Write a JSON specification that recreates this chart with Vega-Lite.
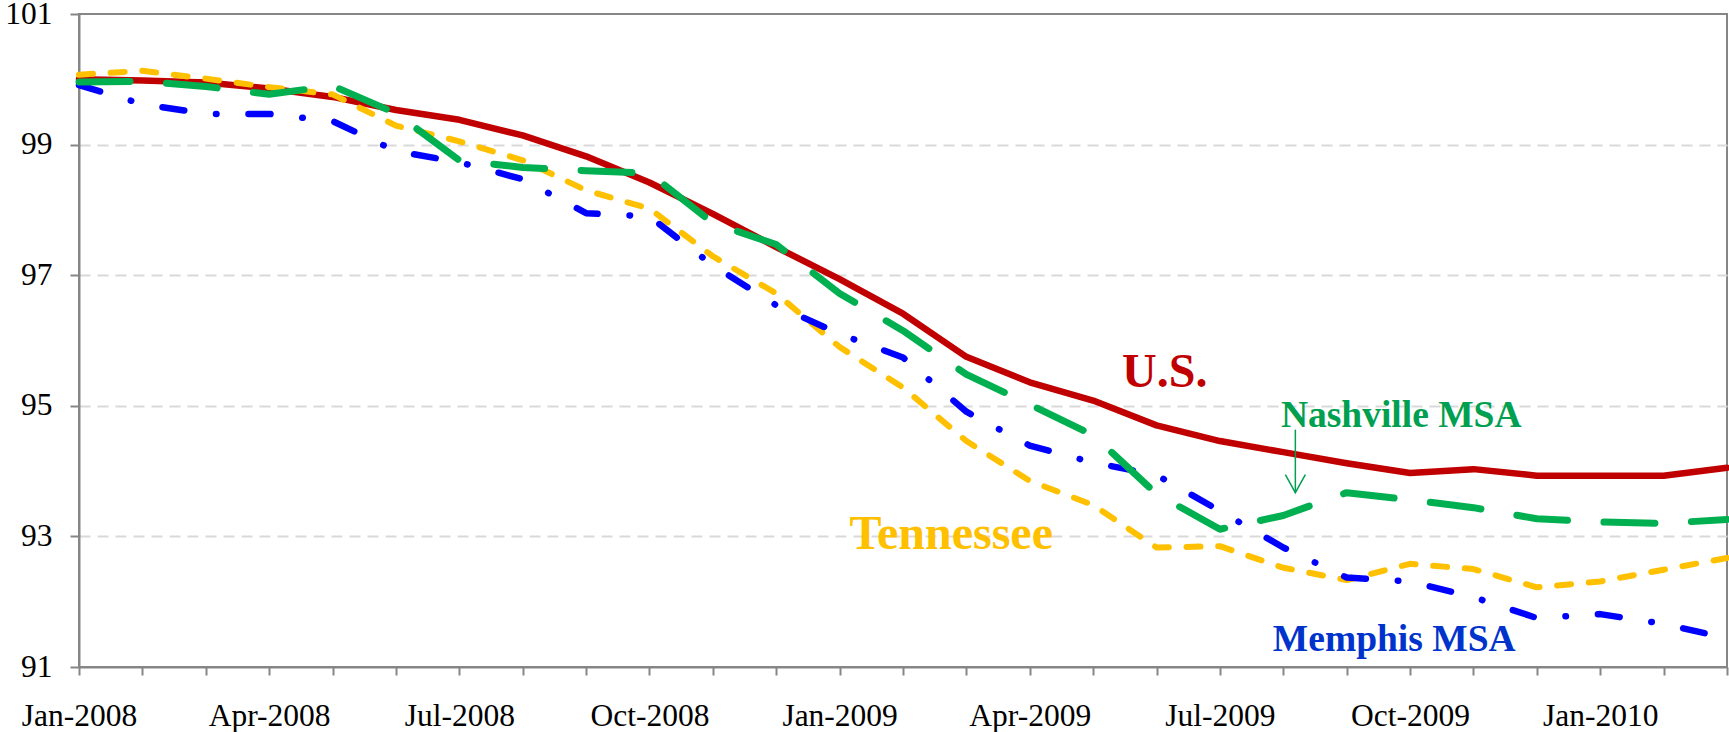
{
  "$schema": "https://vega.github.io/schema/vega-lite/v6.json",
  "width": 1648,
  "height": 653,
  "autosize": "none",
  "padding": {"left": 79, "top": 14, "right": 2, "bottom": 65},
  "background": "white",
  "config": {
    "view": {"stroke": "#868686", "strokeWidth": 2},
    "axis": {
      "labelFont": "Liberation Serif",
      "labelFontSize": 31.5,
      "labelColor": "#000000",
      "domainColor": "#868686",
      "domainWidth": 2,
      "tickColor": "#868686",
      "tickWidth": 2,
      "title": null
    }
  },
  "datasets": {
    "series": [
      {"m": 0, "month": "Jan-2008", "US": 100.0, "TN": 100.07, "Nash": 99.96, "Mem": 99.91},
      {"m": 1, "month": "Feb-2008", "US": 99.98, "TN": 100.13, "Nash": 99.97, "Mem": 99.62},
      {"m": 2, "month": "Mar-2008", "US": 99.95, "TN": 100.01, "Nash": 99.89, "Mem": 99.47},
      {"m": 3, "month": "Apr-2008", "US": 99.86, "TN": 99.88, "Nash": 99.77, "Mem": 99.47},
      {"m": 4, "month": "May-2008", "US": 99.73, "TN": 99.77, "Nash": 99.9, "Mem": 99.36},
      {"m": 5, "month": "Jun-2008", "US": 99.53, "TN": 99.29, "Nash": 99.48, "Mem": 98.9},
      {"m": 6, "month": "Jul-2008", "US": 99.38, "TN": 99.05, "Nash": 98.76, "Mem": 98.73},
      {"m": 7, "month": "Aug-2008", "US": 99.14, "TN": 98.76, "Nash": 98.65, "Mem": 98.47},
      {"m": 8, "month": "Sep-2008", "US": 98.82, "TN": 98.3, "Nash": 98.6, "Mem": 97.95},
      {"m": 9, "month": "Oct-2008", "US": 98.42, "TN": 98.02, "Nash": 98.56, "Mem": 97.9},
      {"m": 10, "month": "Nov-2008", "US": 97.94, "TN": 97.29, "Nash": 97.8, "Mem": 97.15},
      {"m": 11, "month": "Dec-2008", "US": 97.43, "TN": 96.72, "Nash": 97.47, "Mem": 96.54},
      {"m": 12, "month": "Jan-2009", "US": 96.94, "TN": 95.9, "Nash": 96.72, "Mem": 96.1},
      {"m": 13, "month": "Feb-2009", "US": 96.41, "TN": 95.28, "Nash": 96.15, "Mem": 95.74},
      {"m": 14, "month": "Mar-2009", "US": 95.75, "TN": 94.46, "Nash": 95.48, "Mem": 94.91},
      {"m": 15, "month": "Apr-2009", "US": 95.36, "TN": 93.85, "Nash": 95.02, "Mem": 94.39},
      {"m": 16, "month": "May-2009", "US": 95.08, "TN": 93.48, "Nash": 94.55, "Mem": 94.13},
      {"m": 17, "month": "Jun-2009", "US": 94.7, "TN": 92.83, "Nash": 93.65, "Mem": 93.94},
      {"m": 18, "month": "Jul-2009", "US": 94.46, "TN": 92.85, "Nash": 93.11, "Mem": 93.39},
      {"m": 19, "month": "Aug-2009", "US": 94.29, "TN": 92.52, "Nash": 93.32, "Mem": 92.83},
      {"m": 20, "month": "Sep-2009", "US": 94.12, "TN": 92.33, "Nash": 93.67, "Mem": 92.37},
      {"m": 21, "month": "Oct-2009", "US": 93.97, "TN": 92.58, "Nash": 93.56, "Mem": 92.31},
      {"m": 22, "month": "Nov-2009", "US": 94.03, "TN": 92.5, "Nash": 93.44, "Mem": 92.07},
      {"m": 23, "month": "Dec-2009", "US": 93.93, "TN": 92.22, "Nash": 93.27, "Mem": 91.75},
      {"m": 24, "month": "Jan-2010", "US": 93.93, "TN": 92.31, "Nash": 93.22, "Mem": 91.81},
      {"m": 25, "month": "Feb-2010", "US": 93.93, "TN": 92.49, "Nash": 93.2, "Mem": 91.66},
      {"m": 26, "month": "Mar-2010", "US": 94.05, "TN": 92.67, "Nash": 93.26, "Mem": 91.44}
    ],
    "labels": [
      {"label": "U.S.", "m": 17.13, "v": 95.29},
      {"label": "Tennessee", "m": 13.76, "v": 92.8},
      {"label": "Nashville MSA", "m": 20.86, "v": 94.67},
      {"label": "Memphis MSA", "m": 20.75, "v": 91.25}
    ],
    "arrow": [
      {"m": 19.19, "top": 94.635, "tip": 93.67}
    ]
  },
  "layer": [
    {
      "data": {"name": "series"},
      "layer": [
        {
          "mark": {"type": "line", "color": "#C00000", "strokeWidth": 6.5, "strokeJoin": "round", "strokeCap": "round"},
          "encoding": {
            "x": {
              "field": "m",
              "type": "quantitative",
              "scale": {"domain": [0, 26], "nice": false, "zero": false},
              "axis": {
                "values": [0,1,2,3,4,5,6,7,8,9,10,11,12,13,14,15,16,17,18,19,20,21,22,23,24,25,26],
                "labelExpr": "datum.value % 3 == 0 ? ['Jan','Feb','Mar','Apr','May','Jun','Jul','Aug','Sep','Oct','Nov','Dec'][datum.value % 12] + '-' + (2008 + floor(datum.value / 12)) : ''",
                "grid": false,
                "tickSize": 8,
                "labelPadding": 50,
                "labelBaseline": "alphabetic",
                "labelFlush": false,
                "labelOverlap": false,
                "labelBound": false
              }
            },
            "y": {
              "field": "US",
              "type": "quantitative",
              "scale": {"domain": [91, 101], "nice": false, "zero": false},
              "axis": {
                "values": [91, 93, 95, 97, 99, 101],
                "format": "d",
                "tickSize": 9,
                "labelPadding": 18,
                "labelBaseline": "middle",
                "grid": true,
                "gridColor": "#D9D9D9",
                "gridWidth": 2,
                "gridDash": [11, 7],
                "gridOpacity": {"condition": {"test": "datum.value >= 101 || datum.value <= 91", "value": 0}, "value": 1}
              }
            }
          }
        },
        {
          "mark": {"type": "line", "color": "#FFC000", "strokeWidth": 6, "strokeDash": [14, 17.7], "strokeCap": "round", "strokeJoin": "round"},
          "encoding": {"x": {"field": "m", "type": "quantitative"}, "y": {"field": "TN", "type": "quantitative"}}
        },
        {
          "mark": {"type": "line", "color": "#0000FF", "strokeWidth": 6.5, "strokeDash": [22, 32, 0.5, 32], "strokeCap": "round", "strokeJoin": "round"},
          "encoding": {"x": {"field": "m", "type": "quantitative"}, "y": {"field": "Mem", "type": "quantitative"}}
        },
        {
          "mark": {"type": "line", "color": "#00B050", "strokeWidth": 7, "strokeDash": [51, 36.5], "strokeCap": "round", "strokeJoin": "round"},
          "encoding": {"x": {"field": "m", "type": "quantitative"}, "y": {"field": "Nash", "type": "quantitative"}}
        }
      ]
    },
    {
      "data": {"name": "arrow"},
      "mark": {"type": "rule", "color": "#00A050", "strokeWidth": 1.5},
      "encoding": {
        "x": {"field": "m", "type": "quantitative"},
        "y": {"field": "top", "type": "quantitative"},
        "y2": {"field": "tip"}
      }
    },
    {
      "data": {"name": "arrow"},
      "mark": {"type": "point", "shape": "M-1,-1.8L0,0L1,-1.8", "filled": false, "size": 400, "color": "#00A050", "strokeWidth": 1.5, "opacity": 1},
      "encoding": {
        "x": {"field": "m", "type": "quantitative"},
        "y": {"field": "tip", "type": "quantitative"}
      }
    },
    {
      "data": {"name": "labels"},
      "transform": [{"filter": "datum.label == 'U.S.'"}],
      "mark": {"type": "text", "font": "Liberation Serif", "fontWeight": "bold", "fontSize": 48, "color": "#C00000", "align": "center", "baseline": "alphabetic"},
      "encoding": {"x": {"field": "m", "type": "quantitative"}, "y": {"field": "v", "type": "quantitative"}, "text": {"field": "label"}}
    },
    {
      "data": {"name": "labels"},
      "transform": [{"filter": "datum.label == 'Tennessee'"}],
      "mark": {"type": "text", "font": "Liberation Serif", "fontWeight": "bold", "fontSize": 48, "color": "#FFC000", "align": "center", "baseline": "alphabetic"},
      "encoding": {"x": {"field": "m", "type": "quantitative"}, "y": {"field": "v", "type": "quantitative"}, "text": {"field": "label"}}
    },
    {
      "data": {"name": "labels"},
      "transform": [{"filter": "datum.label == 'Nashville MSA'"}],
      "mark": {"type": "text", "font": "Liberation Serif", "fontWeight": "bold", "fontSize": 37.5, "color": "#00A050", "align": "center", "baseline": "alphabetic"},
      "encoding": {"x": {"field": "m", "type": "quantitative"}, "y": {"field": "v", "type": "quantitative"}, "text": {"field": "label"}}
    },
    {
      "data": {"name": "labels"},
      "transform": [{"filter": "datum.label == 'Memphis MSA'"}],
      "mark": {"type": "text", "font": "Liberation Serif", "fontWeight": "bold", "fontSize": 37.5, "color": "#0033CC", "align": "center", "baseline": "alphabetic"},
      "encoding": {"x": {"field": "m", "type": "quantitative"}, "y": {"field": "v", "type": "quantitative"}, "text": {"field": "label"}}
    }
  ]
}
